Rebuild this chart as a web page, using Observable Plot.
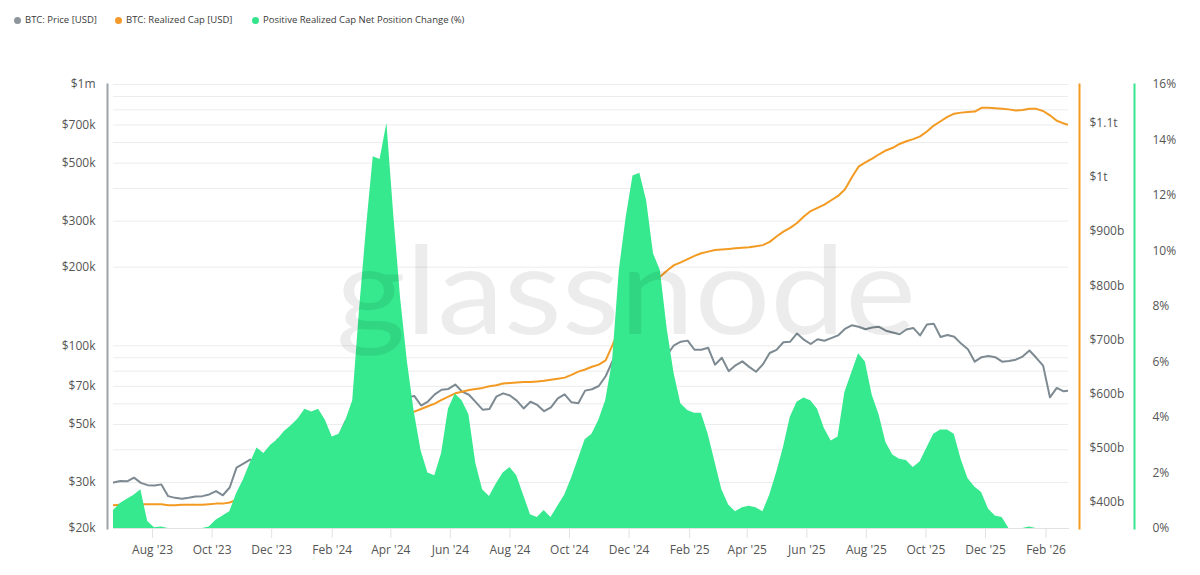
<!DOCTYPE html>
<html><head><meta charset="utf-8">
<script src="https://cdn.jsdelivr.net/npm/d3@7"></script>
<script src="https://cdn.jsdelivr.net/npm/@observablehq/plot@0.6"></script>
<style>
body{margin:0;background:#fff;font-family:"Open Sans",sans-serif;}
#legend{position:relative;height:40px;width:1200px;font-size:9.5px;color:#3a3a3a;}
.item{position:absolute;top:14px;display:flex;align-items:center;white-space:nowrap;line-height:12px;}
.dot{width:7px;height:7px;border-radius:50%;margin-right:4px;}
#chart{position:relative;width:1200px;height:535px;}
#chart svg{position:absolute;left:0;top:0;}
</style></head><body>
<div id="legend"></div><div id="chart"></div>
<script>
// ---- data (weekly samples starting 2023-06-22) ----
const startDate = "2023-06-22";
const stepDays = 7;
// BTC price, thousands USD
const priceK = [30.0,30.4,30.3,31.3,29.9,29.3,29.2,29.5,26.6,26.2,26.0,26.2,26.5,26.6,27.0,27.8,26.8,28.7,34.2,35.4,
36.7,36.2,37.3,37.8,43.8,43.0,43.8,42.6,44.2,46.3,41.3,40.0,43.1,45.3,51.8,51.3,61.2,66.9,71.4,65.5,
70.7,68.5,70.0,63.5,64.3,59.1,61.2,65.2,67.9,68.4,71.1,66.8,65.0,60.9,57.0,57.3,63.9,65.8,64.6,61.7,
57.6,61.1,59.4,56.2,58.1,62.9,65.2,60.8,60.3,67.4,68.2,70.2,76.5,87.3,98.3,95.6,98.0,100.0,97.5,95.8,
96.9,92.5,100.5,103.7,104.7,96.6,96.6,98.3,84.7,90.0,80.0,84.2,87.2,83.1,79.6,84.9,93.9,96.5,103.2,103.7,
111.5,105.6,101.6,106.0,104.6,107.0,109.6,116.0,119.8,118.3,115.8,117.5,118.3,114.3,112.5,110.7,115.5,117.1,109.6,120.6,
121.6,108.1,110.0,108.3,102.0,97.0,87.0,90.5,91.5,90.5,87.0,87.5,88.5,91.0,96.0,90.0,84.0,63.5,69.0,67.0,67.5];
// BTC realized cap, billions USD
const realizedCapB = [394,395,396,396,396,396,396,396,394,394,395,395,395,395,396,397,397,399,404,410,
416,421,426,432,440,444,448,451,455,460,458,458,462,467,478,490,507,525,545,552,
560,563,563,564,567,572,577,582,589,595,601,604,607,609,611,614,616,619,620,621,
622,622,623,624,626,628,630,635,641,645,650,654,662,690,720,750,775,790,800,808,
817,828,838,843,849,855,860,863,866,867,868,869,870,871,873,875,881,891,900,907,
916,928,938,944,950,958,966,978,1000,1020,1028,1035,1043,1050,1055,1062,1067,1071,1076,1085,
1096,1104,1112,1118,1120,1121,1122,1129,1129,1128,1127,1126,1124,1125,1127,1127,1123,1115,1105,1100,1096];
// Positive realized cap net position change, %
const posChangePct = [0.65,0.9,1.05,1.2,1.4,0.25,0.03,0.05,0,0,0,0,0,0,0.05,0.3,0.45,0.6,1.25,1.75,
2.35,2.9,2.7,3.0,3.2,3.5,3.7,3.95,4.3,4.2,4.3,3.9,3.3,3.4,3.9,4.6,7.9,10.8,13.4,13.3,
14.6,11.3,8.3,6.0,4.2,2.8,2.0,1.9,2.7,4.3,4.85,4.6,4.1,2.35,1.4,1.15,1.6,2.0,2.2,1.9,
1.2,0.5,0.4,0.65,0.4,0.8,1.2,1.8,2.5,3.2,3.4,3.9,4.6,6.0,9.3,11.2,12.7,12.8,11.8,9.9,
9.3,7.2,5.6,4.5,4.25,4.15,4.15,3.4,2.4,1.4,0.85,0.6,0.75,0.8,0.75,0.6,1.2,2.0,2.9,4.0,
4.55,4.7,4.6,4.3,3.6,3.15,3.3,4.9,5.6,6.3,6.0,4.8,4.1,3.1,2.65,2.5,2.45,2.2,2.4,2.9,
3.4,3.55,3.55,3.4,2.5,1.8,1.5,1.3,0.7,0.45,0.4,0,0,0,0.05,0,0,0,0,0,0];

const xStart = "2023-06-22", xEnd = "2026-02-24";
const xTickStart = "2023-08-01", xTickEnd = "2026-03-01";
const priceTicksK = [20,30,50,70,100,200,300,500,700,1000];
const priceGridK = [20,30,40,50,60,70,80,90,100,200,300,400,500,600,700,800,900,1000];
const capTicksB = [400,500,600,700,800,900,1000,1100];
const pctTicks = [0,2,4,6,8,10,12,14,16];
const legendItems = [
  {label:"BTC: Price [USD]", color:"#8c969c", left:14},
  {label:"BTC: Realized Cap [USD]", color:"#f39a2a", left:115},
  {label:"Positive Realized Cap Net Position Change (%)", color:"#36e38d", left:252}
];

// ---- build ----
const C = {price:"#7d8a92", cap:"#f39a22", green:"#36e88e", axisGray:"#9ca4aa", text:"#555"};
const t0 = new Date(startDate + "T00:00:00Z").getTime();
const rows = priceK.map((p,i)=>({
  date: new Date(t0 + i*stepDays*864e5),
  price: p, cap: realizedCapB[i], pct: posChangePct[i]
}));
const xDomain = [new Date(xStart), new Date(xEnd)];
const xTicks = d3.utcMonth.range(new Date(xTickStart), new Date(xTickEnd), 2);

const lg = document.getElementById("legend");
for (const it of legendItems) {
  const d = document.createElement("div"); d.className="item"; d.style.left = it.left+"px";
  d.innerHTML = `<span class="dot" style="background:${it.color}"></span><span>${it.label}</span>`;
  lg.appendChild(d);
}

const W=1200,H=535;
const base = {
  width:W, height:H, marginTop:44, marginBottom:47, marginLeft:113, marginRight:132,
  style:{background:"transparent", fontFamily:"'Open Sans', sans-serif", fontSize:"12px", color:C.text, overflow:"visible"}
};

const p1 = Plot.plot({
  ...base,
  x:{type:"utc", domain:xDomain, label:null},
  y:{type:"log", domain:[20,1000], label:null},
  marks:[
    Plot.gridY(priceGridK, {stroke:"#ececec", strokeOpacity:1}),
    Plot.frame({anchor:"bottom", stroke:"#e2e2e2"}),
    Plot.axisX(xTicks, {tickFormat:d3.utcFormat("%b '%y"), tickSize:10, tickPadding:7, stroke:"#e2e2e2", fill:C.text, label:null}),
    Plot.axisY(priceTicksK, {anchor:"left", tickSize:0, tickPadding:18, fill:C.text, label:null,
      tickFormat:d => d>=1000 ? "$1m" : "$"+d+"k"}),
    Plot.frame({anchor:"left", dx:-6, stroke:C.axisGray, strokeWidth:2}),
    Plot.lineY(rows, {x:"date", y:"price", stroke:C.price, strokeWidth:2, clip:true})
  ]
});

const p2 = Plot.plot({
  ...base,
  x:{type:"utc", domain:xDomain, axis:null},
  y:{type:"linear", domain:[351,1172], label:null},
  marks:[
    Plot.lineY(rows, {x:"date", y:"cap", stroke:C.cap, strokeWidth:2, clip:true}),
    Plot.axisY(capTicksB, {anchor:"right", tickSize:0, tickPadding:21, fill:C.text, label:null,
      tickFormat:d => d>=1000 ? "$"+(d/1000)+"t" : "$"+d+"b"}),
    Plot.frame({anchor:"right", dx:11, stroke:C.cap, strokeWidth:2})
  ]
});

const p3 = Plot.plot({
  ...base,
  x:{type:"utc", domain:xDomain, axis:null},
  y:{type:"linear", domain:[0,16], label:null},
  marks:[
    Plot.areaY(rows, {x:"date", y:"pct", fill:C.green, clip:true}),
    Plot.axisY(pctTicks, {anchor:"right", tickSize:0, tickPadding:84, fill:C.text, label:null, tickFormat:d => d+"%"}),
    Plot.frame({anchor:"right", dx:66, stroke:C.green, strokeWidth:2}),
    Plot.text(["glassnode"], {frameAnchor:"middle", text:d=>d, fontSize:122, fontFamily:"Lato",
      fill:"#000", fillOpacity:0.075, dx:35, dy:-12})
  ]
});

const chart = document.getElementById("chart");
chart.append(p1, p2, p3);
d3.select(p3).selectAll("text").filter(function(){return this.textContent==="glassnode";})
  .attr("textLength",580).attr("lengthAdjust","spacingAndGlyphs");
</script>
</body></html>
